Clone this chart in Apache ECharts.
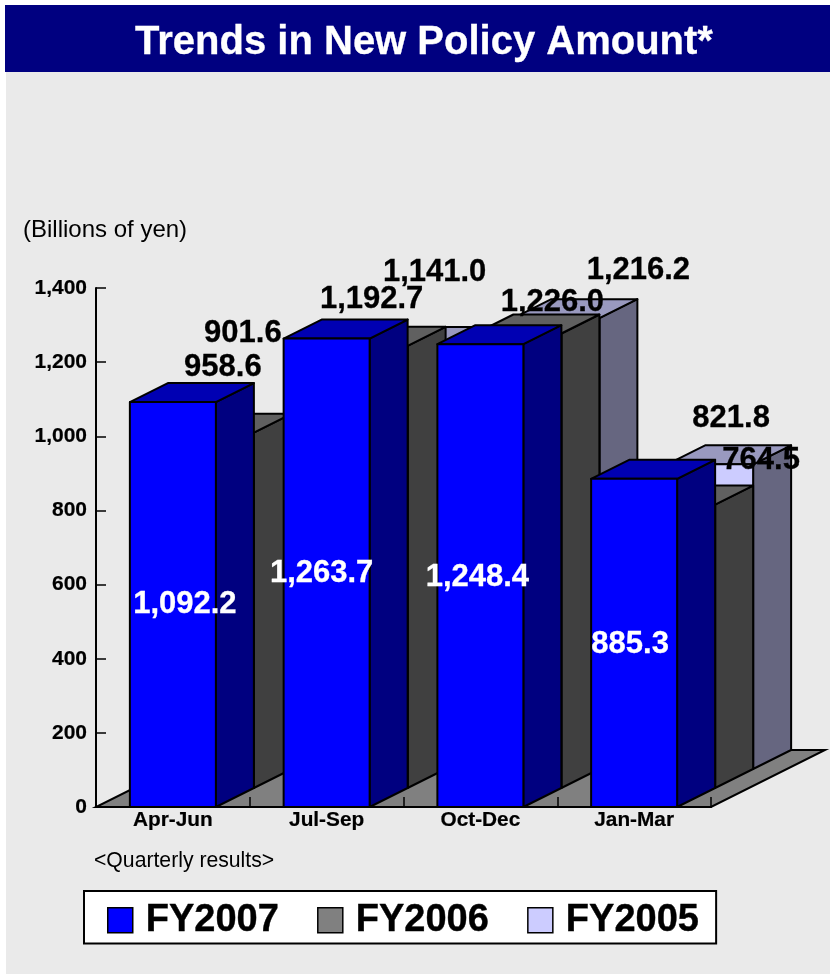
<!DOCTYPE html>
<html>
<head>
<meta charset="utf-8">
<style>html,body{margin:0;padding:0;background:#fff}#chart{width:830px;height:974px}</style>
<script src="https://cdn.jsdelivr.net/npm/echarts@6/dist/echarts.min.js"></script>
</head>
<body>
<div id="chart"></div>
<script>
// Quarterly new policy amount, billions of yen
const quarters = ['Apr-Jun', 'Jul-Sep', 'Oct-Dec', 'Jan-Mar'];
const fy2007 = [1092.2, 1263.7, 1248.4, 885.3];
const fy2006 = [958.6, 1192.7, 1226.0, 764.5];
const fy2005 = [901.6, 1141.0, 1216.2, 821.8];
const yTicks = { min: 0, max: 1400, interval: 200 };

// Face colours of each 3D bar: front, top, side
const faces = {
  FY2007: ['#0000ff', '#0000b3', '#000080'],
  FY2006: ['#808080', '#606060', '#404040'],
  FY2005: ['#ccccff', '#9999bf', '#666680']
};

// Oblique projection: one series step moves the bar back along this vector
const stepX = 38, stepY = -19;
const barWidth = 86;
const font = '"Liberation Sans", Arial, sans-serif';

// Hand-placed label nudges, [dx, dy] from the bar's anchor point
const nudges2007 = [[12, 0], [-5, 1], [-3, 2], [-4, 2]];
const nudges2006 = [[12, -65], [7, -46], [34, -31], [89, -44]];
const nudges2005 = [[-6, -101], [32, -74], [82, -48], [21, -46]];

function barSeries(name, values, depth, z) {
  const [front, top, side] = faces[name];
  return {
    name, type: 'custom', coordinateSystem: 'cartesian2d', z,
    itemStyle: { color: front, borderColor: '#000', borderWidth: 1.5 },
    encode: { x: 0, y: 1 },
    data: values.map((v, i) => [i, v]),
    renderItem(params, api) {
      const t = api.coord([api.value(0), api.value(1)]);
      const b = api.coord([api.value(0), 0]);
      const ox = depth * stepX, oy = depth * stepY;
      const x0 = t[0] - barWidth / 2 + ox, x1 = x0 + barWidth;
      const yT = t[1] + oy, yB = b[1] + oy;
      const edge = { stroke: '#000', lineWidth: 2, lineJoin: 'round' };
      return {
        type: 'group',
        children: [
          { type: 'polygon', shape: { points: [[x1, yT], [x1 + stepX, yT + stepY], [x1 + stepX, yB + stepY], [x1, yB]] }, style: { fill: side, ...edge } },
          { type: 'polygon', shape: { points: [[x0, yT], [x0 + stepX, yT + stepY], [x1 + stepX, yT + stepY], [x1, yT]] }, style: { fill: top, ...edge } },
          { type: 'rect', shape: { x: x0, y: yT, width: barWidth, height: yB - yT }, style: { fill: front, ...edge } }
        ]
      };
    }
  };
}

function labelSeries(name, values, depth, nudges, color, midBar) {
  return {
    name: name + ' labels', type: 'custom', coordinateSystem: 'cartesian2d', z: 20,
    silent: true,
    encode: { x: 0, y: 1 },
    data: values.map((v, i) => [i, v]),
    renderItem(params, api) {
      const v = api.value(1), i = api.value(0);
      const t = api.coord([i, midBar ? v / 2 : v]);
      const n = nudges[i];
      return {
        type: 'text',
        x: t[0] + depth * stepX + n[0],
        y: t[1] + depth * stepY + n[1],
        style: {
          text: v.toLocaleString('en-US', { minimumFractionDigits: 1, maximumFractionDigits: 1 }),
          fill: color, stroke: color, lineWidth: 0.3,
          font: 'bold 31px ' + font, align: 'center', verticalAlign: 'middle'
        }
      };
    }
  };
}

// Floor plane under the bars, spanning the three series depths
const floorSeries = {
  type: 'custom', coordinateSystem: 'cartesian2d', z: -1, silent: true,
  encode: { x: 0, y: 1 },
  data: [[0, 0]],
  renderItem(params, api) {
    const r = params.coordSys;
    const y = r.y + r.height, dx = 3 * stepX, dy = 3 * stepY;
    return {
      type: 'polygon',
      shape: { points: [[r.x, y], [r.x + r.width, y], [r.x + r.width + dx, y + dy], [r.x + dx, y + dy]] },
      style: { fill: '#808080', stroke: '#000', lineWidth: 2 }
    };
  }
};

const chart = echarts.init(document.getElementById('chart'), null, { renderer: 'canvas' });
chart.setOption({
  animation: false,
  backgroundColor: '#ffffff',
  title: {
    text: 'Trends in New Policy Amount*',
    left: 419, top: 15, textAlign: 'center',
    textStyle: { color: '#fff', fontFamily: font, fontWeight: 'bold', fontSize: 40, lineHeight: 46, textBorderColor: '#fff', textBorderWidth: 0.3 }
  },
  graphic: [
    { type: 'rect', z: -20, shape: { x: 6, y: 72, width: 824, height: 902 }, style: { fill: '#eaeaea' } },
    { type: 'rect', z: -10, shape: { x: 5, y: 5, width: 825, height: 67 }, style: { fill: '#000080' } },
    { type: 'text', z: 5, x: 23, y: 230, style: { text: '(Billions of yen)', fill: '#000', font: '24px ' + font, verticalAlign: 'middle' } },
    { type: 'text', z: 5, x: 94, y: 861, style: { text: '<Quarterly results>', fill: '#000', font: '21.2px ' + font, verticalAlign: 'middle' } }
  ],
  grid: { left: 96, right: 119, top: 288, bottom: 167, containLabel: false },
  xAxis: {
    type: 'category', data: quarters, boundaryGap: true,
    axisLine: { lineStyle: { color: '#000', width: 2 } },
    axisTick: { show: true, inside: true, length: 10, lineStyle: { color: '#000', width: 1.5 }, alignWithLabel: false },
    axisLabel: { color: '#000', fontFamily: font, fontWeight: 'bold', fontSize: 20.8, margin: 3, interval: 0, textBorderColor: '#000', textBorderWidth: 0.2 }
  },
  yAxis: {
    type: 'value', min: yTicks.min, max: yTicks.max, interval: yTicks.interval,
    splitLine: { show: false },
    axisLine: { show: true, lineStyle: { color: '#000', width: 2 } },
    axisTick: { show: true, inside: true, length: 10, lineStyle: { color: '#000', width: 1.5 } },
    axisLabel: { color: '#000', fontFamily: font, fontWeight: 'bold', fontSize: 21, margin: 9, textBorderColor: '#000', textBorderWidth: 0.2 }
  },
  legend: {
    left: 84, top: 891,
    padding: [10, 17, 4, 23],
    itemWidth: 25, itemHeight: 25, itemGap: 38,
    backgroundColor: '#ffffff', borderColor: '#000', borderWidth: 2,
    icon: 'rect',
    data: ['FY2007', 'FY2006', 'FY2005'],
    selectedMode: false,
    itemStyle: { borderColor: '#000', borderWidth: 1.5 },
    textStyle: { color: '#000', fontFamily: font, fontWeight: 'bold', fontSize: 38, padding: [8, 0, 0, 8], textBorderColor: '#000', textBorderWidth: 0.4 }
  },
  series: [
    floorSeries,
    barSeries('FY2005', fy2005, 2, 3),
    barSeries('FY2006', fy2006, 1, 4),
    barSeries('FY2007', fy2007, 0, 5),
    labelSeries('FY2005', fy2005, 2, nudges2005, '#000', false),
    labelSeries('FY2006', fy2006, 1, nudges2006, '#000', false),
    labelSeries('FY2007', fy2007, 0, nudges2007, '#fff', true)
  ]
});
</script>
</body>
</html>
